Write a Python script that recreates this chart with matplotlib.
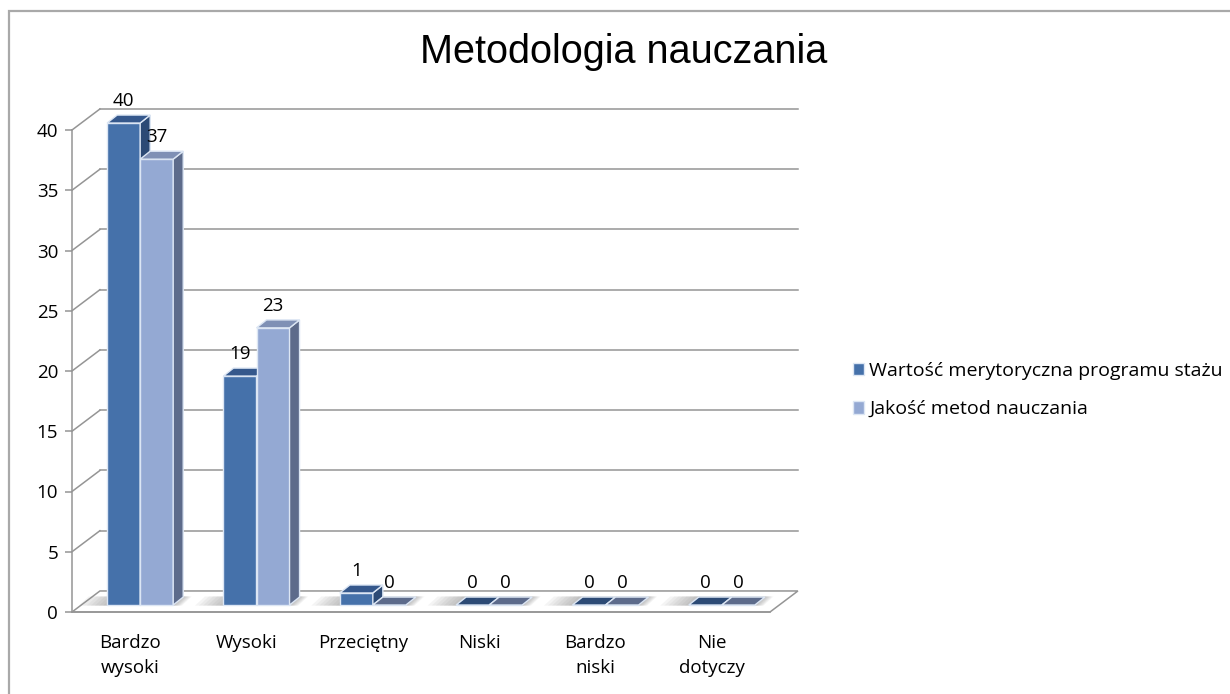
import matplotlib
matplotlib.use("Agg")
import matplotlib.pyplot as plt
from matplotlib.patches import Polygon, Rectangle, Patch

categories = ["Bardzo\nwysoki", "Wysoki", "Przeciętny", "Niski", "Bardzo\nniski", "Nie\ndotyczy"]
series_names = ["Wartość merytoryczna programu stażu", "Jakość metod nauczania"]
wartosc = [40, 19, 1, 0, 0, 0]
jakosc = [37, 23, 0, 0, 0, 0]
yticks = [0, 5, 10, 15, 20, 25, 30, 35, 40]

# colours: front, side, top
dark = ("#4571aa", "#2c4a75", "#35588c")
light = ("#94a9d3", "#5d6b8b", "#7f90b5")
grid_c = "#959595"
edge_c = "#dce6f4"

# fake 3d geometry (data units)
wall_dx, wall_dy = 0.24, 1.745      # depth of floor / side wall
fx, fy = 0.086, 0.58                # bar front face offset
bx, by = 0.172, 1.24                # bar back face offset
bw = 0.284                          # bar width
fs = 13.5

plt.rcParams['font.family'] = ['Open Sans', 'DejaVu Sans']

fig = plt.figure(figsize=(12.3, 6.94), dpi=100)
ax = fig.add_axes([72 / 1230, 82 / 694, 698 / 1230, 482 / 694])
ax.set_xlim(0, 6)
ax.set_ylim(0, 40)

# outer chart frame
fig.add_artist(Rectangle((9 / 1230, -0.05), 1.2, (694 - 11) / 694 + 0.05,
                         transform=fig.transFigure, fill=False,
                         edgecolor="#a9a9a9", lw=1.6))

# floor
n = len(categories)
floor = Polygon([(0, 0), (n, 0), (n + wall_dx, wall_dy), (wall_dx, wall_dy)],
                closed=True, facecolor="white", edgecolor=grid_c, lw=1.1,
                clip_on=False, zorder=1)
ax.add_patch(floor)

# back wall gridlines + side wall diagonals
for v in yticks[1:]:
    ax.plot([wall_dx, n + wall_dx], [v + wall_dy, v + wall_dy], color=grid_c,
            lw=1.1, clip_on=False, zorder=1)
    ax.plot([0, wall_dx], [v, v + wall_dy], color=grid_c, lw=1.1,
            clip_on=False, zorder=1)

# soft shadows on the floor around each bar pair (stacked translucent bands)
for i in range(n):
    x0 = i + 0.5 - bw + fx
    x1 = i + 0.5 + bw + bx
    for k in range(7):
        grow = 0.035 * (k + 1)
        sh = Polygon([(x0 - grow, fy - 0.05), (x1 - (bx - fx) + grow * 0.3, fy - 0.05),
                      (x1 + grow * 0.3, by + 0.05), (x0 + (bx - fx) - grow, by + 0.05)],
                     closed=True, facecolor="#7a7a7a", edgecolor="none",
                     alpha=0.08, clip_on=False, zorder=1.5)
        ax.add_patch(sh)


def draw_series(values, offset, cols, z):
    xs = [i + 0.5 + offset + fx for i in range(n)]
    ax.bar(xs, values, width=bw, bottom=fy, align='edge', color=cols[0],
           edgecolor=edge_c, lw=1.0, clip_on=False, zorder=z)
    for x, v in zip(xs, values):
        top = v + fy
        side = [(x + bw, fy), (x + bw - fx + bx, by), (x + bw - fx + bx, v + by),
                (x + bw, top)]
        lid = [(x, top), (x + bw, top), (x + bw - fx + bx, v + by),
               (x - fx + bx, v + by)]
        if v > 0:
            ax.add_patch(Polygon(side, closed=True, facecolor=cols[1],
                                 edgecolor=edge_c, lw=1.0, clip_on=False, zorder=z))
        ax.add_patch(Polygon(lid, closed=True, facecolor=cols[2] if v > 0 else cols[1],
                             edgecolor=edge_c, lw=1.0, clip_on=False, zorder=z))
        ax.text(x + bw / 2, v + fy + 1.8, str(v), ha='center', va='center',
                fontsize=fs, color="black", zorder=6, clip_on=False)


draw_series(wartosc, -bw, dark, 3)
draw_series(jakosc, 0, light, 4)

# axes styling
for s in ["top", "right"]:
    ax.spines[s].set_visible(False)
ax.spines["left"].set_color(grid_c)
ax.spines["left"].set_linewidth(1.1)
ax.spines["bottom"].set_color(grid_c)
ax.spines["bottom"].set_linewidth(1.1)
ax.set_yticks(yticks)
ax.tick_params(axis='y', length=5, width=1.1, color=grid_c, pad=5, labelsize=fs)
ax.set_xticks([i + 0.5 for i in range(n)])
ax.set_xticklabels(categories, fontsize=fs, linespacing=1.45)
ax.tick_params(axis='x', length=0, pad=16)
ax.patch.set_visible(False)

fig.text(624 / 1230, 1 - 52 / 694, "Metodologia nauczania", ha='center', va='center',
         fontsize=28.5, family=['Liberation Sans', 'DejaVu Sans'])

handles = [Patch(facecolor=dark[0], edgecolor=edge_c), Patch(facecolor=light[0], edgecolor=edge_c)]
fig.legend(handles, series_names, loc='center left',
           bbox_to_anchor=(845 / 1230, 1 - 390 / 694), frameon=False,
           fontsize=14, handlelength=0.6, handleheight=0.6,
           handletextpad=0.25, labelspacing=1.05, borderaxespad=0)

plt.savefig('out.png', dpi=100)
plt.close('all')
